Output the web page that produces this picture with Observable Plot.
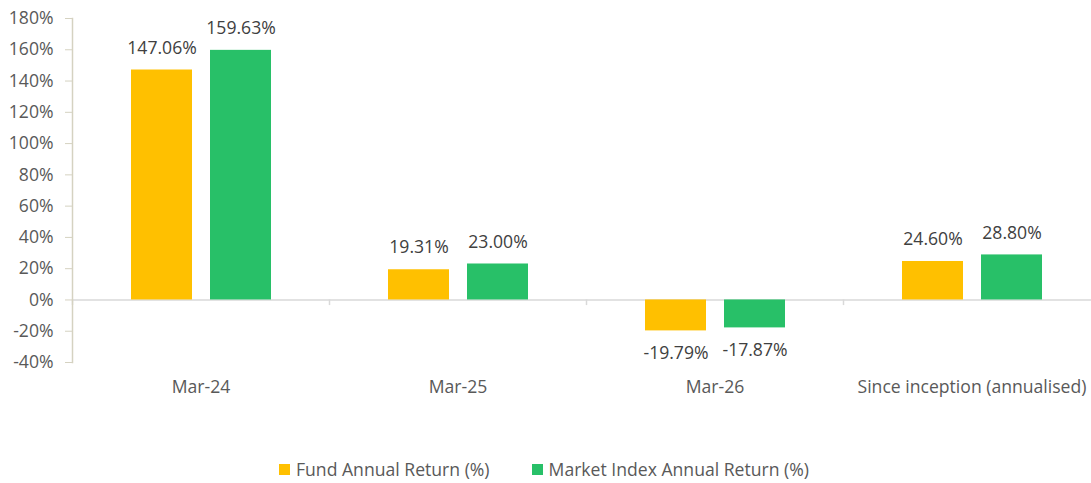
<!DOCTYPE html>
<html><head><meta charset="utf-8">
<script src="https://cdn.jsdelivr.net/npm/d3@7"></script>
<script src="https://cdn.jsdelivr.net/npm/@observablehq/plot@0.6"></script>
<style>
html,body{margin:0;padding:0;overflow:hidden;background:#fff;}
body{font-family:"Open Sans",sans-serif;}
svg{max-width:none !important;}
#legend{display:flex;align-items:center;padding-top:47px;padding-left:279px;font-size:17.6px;color:#595959;line-height:24px;}
.item{display:flex;align-items:center;margin-right:42px;}
.sw{width:11px;height:11px;margin-right:6px;}
</style></head><body>
<div id="chart"></div>
<div id="legend"></div>
<script>
const categories = ["Mar-24", "Mar-25", "Mar-26", "Since inception (annualised)"];
const seriesNames = ["Fund Annual Return (%)", "Market Index Annual Return (%)"];
const fundValues = [147.06, 19.31, -19.79, 24.60];
const marketValues = [159.63, 23.00, -17.87, 28.80];
const yTicks = [-40, -20, 0, 20, 40, 60, 80, 100, 120, 140, 160, 180];
const seriesColors = ["#FFC000", "#28C068"];

const data = categories.flatMap((c, i) => [
  {category: c, series: seriesNames[0], value: fundValues[i]},
  {category: c, series: seriesNames[1], value: marketValues[i]}
]);
const fmt = v => v.toFixed(2) + "%";

const W = 1100, ML = 72;
const facetW = (W - ML) / categories.length;
const font = "'Open Sans', sans-serif";
const fs = 17.6;

const chart = Plot.plot({
  width: W, height: 410,
  marginTop: 18, marginBottom: 48, marginLeft: ML, marginRight: 0,
  style: {fontFamily: font, fontSize: fs + "px", color: "#595959", background: "#fff", maxWidth: "none"},
  fx: {domain: categories, padding: 0, label: null, axis: null},
  x: {domain: seriesNames, axis: null, paddingInner: 0.228, paddingOuter: 0.74},
  y: {domain: [-40, 180], axis: null, label: null},
  color: {domain: seriesNames, range: seriesColors},
  marks: [
    Plot.ruleY([0], {stroke: "#D9D9D9", strokeWidth: 1.5}),
    Plot.ruleX(categories, {fx: d => d, x: null, y1: 0, y2: -3.6, dx: -facetW / 2, stroke: "#D9D9D9", strokeWidth: 1.5}),
    Plot.frame({anchor: "left", facet: "super", stroke: "#D5D2C1", strokeWidth: 1.5}),
    Plot.axisY({ticks: yTicks, tickSize: 7, tickPadding: 12, tickFormat: d => d + "%", stroke: "#D5D2C1", fill: "#595959", fontSize: fs, label: null}),
    Plot.axisFx({anchor: "bottom", tickSize: 0, tickPadding: 18, fill: "#595959", fontSize: fs, label: null}),
    Plot.barY(data, {fx: "category", x: "series", y: "value", fill: "series"}),
    Plot.text(data.filter(d => d.value >= 0), {fx: "category", x: "series", y: "value", text: d => fmt(d.value), dy: -22, fill: "#404040", fontSize: fs}),
    Plot.text(data.filter(d => d.value < 0), {fx: "category", x: "series", y: "value", text: d => fmt(d.value), dy: 22, fill: "#404040", fontSize: fs})
  ]
});
document.getElementById("chart").appendChild(chart);

const legend = document.getElementById("legend");
seriesNames.forEach((s, i) => {
  const item = document.createElement("div");
  item.className = "item";
  const sw = document.createElement("div");
  sw.className = "sw";
  sw.style.background = seriesColors[i];
  const t = document.createElement("span");
  t.textContent = s;
  item.appendChild(sw); item.appendChild(t);
  legend.appendChild(item);
});
</script>
</body></html>
